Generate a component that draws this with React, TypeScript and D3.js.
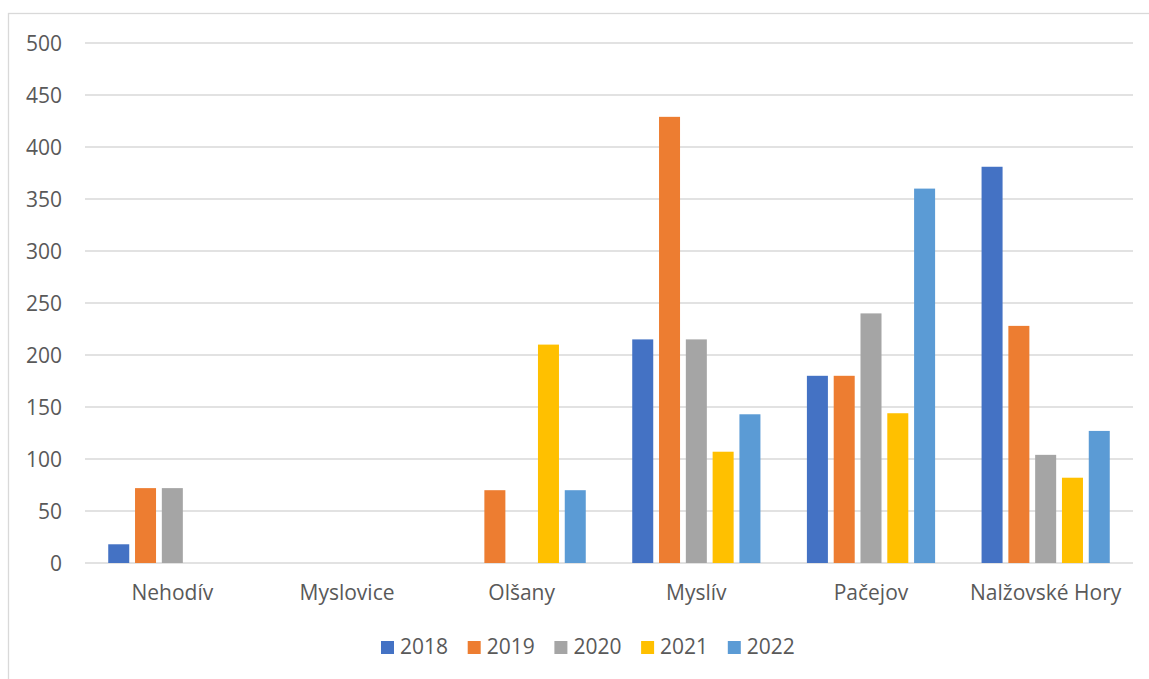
import { useEffect, useRef } from 'react'
import * as d3 from 'd3'

const categories = ['Nehodív', 'Myslovice', 'Olšany', 'Myslív', 'Pačejov', 'Nalžovské Hory']
const years = ['2018', '2019', '2020', '2021', '2022']
const v2018 = [18, 0, 0, 215, 180, 381]
const v2019 = [72, 0, 70, 429, 180, 228]
const v2020 = [72, 0, 0, 215, 240, 104]
const v2021 = [0, 0, 210, 107, 144, 82]
const v2022 = [0, 0, 70, 143, 360, 127]
const yTicks = [0, 50, 100, 150, 200, 250, 300, 350, 400, 450, 500]
const colors = ['#4472c4', '#ed7d31', '#a5a5a5', '#ffc000', '#5b9bd5']

const seriesValues = [v2018, v2019, v2020, v2021, v2022]

const App = () => {
  const svgRef = useRef(null)

  useEffect(() => {
    const width = 1149
    const height = 679
    const font = '"Open Sans", sans-serif'
    const fontSize = 21
    const textColor = '#595959'

    const svg = d3.select(svgRef.current)
    svg.selectAll('*').remove()
    svg.attr('width', width).attr('height', height)

    // chart border
    svg
      .append('rect')
      .attr('x', 8.5)
      .attr('y', 13.5)
      .attr('width', 1160)
      .attr('height', 700)
      .attr('fill', '#fff')
      .attr('stroke', '#d9d9d9')
      .attr('stroke-width', 1.3)

    const x0 = d3.scaleBand().domain(categories).range([85, 1133]).padding(0)
    const x1 = d3
      .scaleBand()
      .domain(years)
      .range([0, x0.bandwidth()])
      .paddingInner(0.216)
      .paddingOuter(0.867)
    const y = d3.scaleLinear().domain([0, 500]).range([563, 43])

    // gridlines
    svg
      .append('g')
      .selectAll('line')
      .data(yTicks)
      .join('line')
      .attr('x1', 85)
      .attr('x2', 1133)
      .attr('y1', (d) => y(d))
      .attr('y2', (d) => y(d))
      .attr('stroke', '#d9d9d9')
      .attr('stroke-width', 1.4)

    // y labels
    svg
      .append('g')
      .selectAll('text')
      .data(yTicks)
      .join('text')
      .attr('x', 62)
      .attr('y', (d) => y(d))
      .attr('dy', '0.36em')
      .attr('text-anchor', 'end')
      .attr('font-family', font)
      .attr('font-size', fontSize)
      .attr('fill', textColor)
      .text((d) => d)

    // bars
    const groups = svg
      .append('g')
      .selectAll('g')
      .data(categories)
      .join('g')
      .attr('transform', (d) => `translate(${x0(d)},0)`)

    groups
      .selectAll('rect')
      .data((_, i) => years.map((yr, j) => ({ yr, j, v: seriesValues[j][i] })))
      .join('rect')
      .filter((d) => d.v > 0)
      .attr('x', (d) => x1(d.yr)!)
      .attr('width', x1.bandwidth())
      .attr('y', (d) => y(d.v))
      .attr('height', (d) => y(0) - y(d.v))
      .attr('fill', (d) => colors[d.j])

    // category labels
    svg
      .append('g')
      .selectAll('text')
      .data(categories)
      .join('text')
      .attr('x', (d) => x0(d)! + x0.bandwidth() / 2)
      .attr('y', 600)
      .attr('text-anchor', 'middle')
      .attr('font-family', font)
      .attr('font-size', fontSize)
      .attr('fill', textColor)
      .text((d) => d)

    // legend
    const legend = svg
      .append('g')
      .selectAll('g')
      .data(years)
      .join('g')
      .attr('transform', (_, i) => `translate(${381 + i * 86.7},0)`)

    legend
      .append('rect')
      .attr('x', 0)
      .attr('y', 641)
      .attr('width', 13)
      .attr('height', 13)
      .attr('fill', (_, i) => colors[i])

    legend
      .append('text')
      .attr('x', 19)
      .attr('y', 654)
      .attr('font-family', font)
      .attr('font-size', fontSize)
      .attr('fill', textColor)
      .text((d) => d)
  }, [])

  return <svg ref={svgRef} style={{ position: 'absolute', left: 0, top: 0 }}></svg>
}

export default App
